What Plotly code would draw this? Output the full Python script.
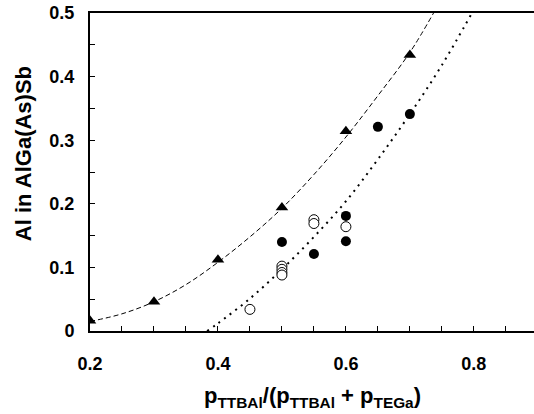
import plotly.graph_objects as go

# --- data ---
tri_x = [0.2, 0.3, 0.4, 0.5, 0.6, 0.7]
tri_y = [0.016, 0.046, 0.112, 0.194, 0.314, 0.434]

filled_x = [0.5, 0.55, 0.6, 0.6, 0.65, 0.7]
filled_y = [0.140, 0.121, 0.181, 0.141, 0.321, 0.341]

open_x = [0.45, 0.5, 0.5, 0.5, 0.5, 0.55, 0.55, 0.6]
open_y = [0.034, 0.102, 0.097, 0.092, 0.088, 0.175, 0.169, 0.164]

# fitted curves
dash_x = [0.2, 0.25, 0.3, 0.35, 0.4, 0.45, 0.5, 0.55, 0.6, 0.65, 0.7, 0.737]
dash_y = [0.015, 0.027, 0.046, 0.073, 0.108, 0.148, 0.193, 0.246, 0.305, 0.370, 0.438, 0.5]

dot_x = [0.383, 0.4, 0.45, 0.5, 0.55, 0.6, 0.65, 0.7, 0.75, 0.797]
dot_y = [0.0, 0.012, 0.051, 0.097, 0.148, 0.204, 0.270, 0.341, 0.418, 0.5]

x_tickvals = [0.2, 0.25, 0.3, 0.35, 0.4, 0.45, 0.5, 0.55, 0.6, 0.65, 0.7, 0.75, 0.8, 0.85]
x_ticktext = ["0.2", "", "", "", "0.4", "", "", "", "0.6", "", "", "", "0.8", ""]
y_tickvals = [0, 0.05, 0.1, 0.15, 0.2, 0.25, 0.3, 0.35, 0.4, 0.45, 0.5]
y_ticktext = ["0", "", "0.1", "", "0.2", "", "0.3", "", "0.4", "", "0.5"]

FONT = "Liberation Sans, Arial, sans-serif"

fig = go.Figure()
fig.add_trace(go.Scatter(x=dash_x, y=dash_y, mode="lines", line_shape="spline",
                         line=dict(color="black", width=1, dash="5px,3px"),
                         hoverinfo="skip"))
fig.add_trace(go.Scatter(x=dot_x, y=dot_y, mode="lines", line_shape="spline",
                         line=dict(color="black", width=2, dash="2px,5px"),
                         hoverinfo="skip"))
fig.add_trace(go.Scatter(x=tri_x, y=tri_y, mode="markers",
                         marker=dict(symbol="triangle-up", size=11, color="black")))
fig.add_trace(go.Scatter(x=filled_x, y=filled_y, mode="markers",
                         marker=dict(symbol="circle", size=10, color="black")))
fig.add_trace(go.Scatter(x=open_x, y=open_y, mode="markers",
                         marker=dict(symbol="circle", size=10, color="white",
                                     line=dict(color="black", width=1))))

fig.update_layout(
    width=534, height=414,
    margin=dict(l=90, r=0, t=13, b=83, autoexpand=False),
    paper_bgcolor="white", plot_bgcolor="white",
    showlegend=False,
    font=dict(family=FONT, size=18, color="black"),
    xaxis=dict(range=[0.2, 0.894], showgrid=False, zeroline=False,
               showline=True, linecolor="black", linewidth=2, mirror=True,
               ticks="inside", ticklen=5, tickwidth=1, tickcolor="black",
               tickvals=x_tickvals, ticktext=x_ticktext,
               tickfont=dict(family=FONT, size=18, color="black", weight="bold"),
               ticklabelstandoff=15, ticklabeloverflow="allow"),
    yaxis=dict(range=[0, 0.5], showgrid=False, zeroline=False,
               showline=True, linecolor="black", linewidth=2,
               ticks="inside", ticklen=5, tickwidth=1, tickcolor="black",
               tickvals=y_tickvals, ticktext=y_ticktext,
               tickfont=dict(family=FONT, size=18, color="black", weight="bold"),
               ticklabelstandoff=10, ticklabeloverflow="allow"),
    annotations=[
        dict(text="Al in AlGa(As)Sb", xref="paper", yref="paper",
             x=-0.148, y=0.557, textangle=-90, showarrow=False,
             xanchor="center", yanchor="middle",
             font=dict(family=FONT, size=22, color="black", weight="bold")),
        dict(text="p<sub>TTBAl</sub>/(p<sub>TTBAl</sub> + p<sub>TEGa</sub>)",
             xref="paper", yref="paper", x=0.5, y=-0.209,
             showarrow=False, xanchor="center", yanchor="middle",
             font=dict(family=FONT, size=22, color="black", weight="bold")),
    ],
)

# remove the default 8px page margin so the figure sits at the window origin
fig.write_html("out.html", config={"displayModeBar": False},
               post_script="document.body.style.margin='0';")
